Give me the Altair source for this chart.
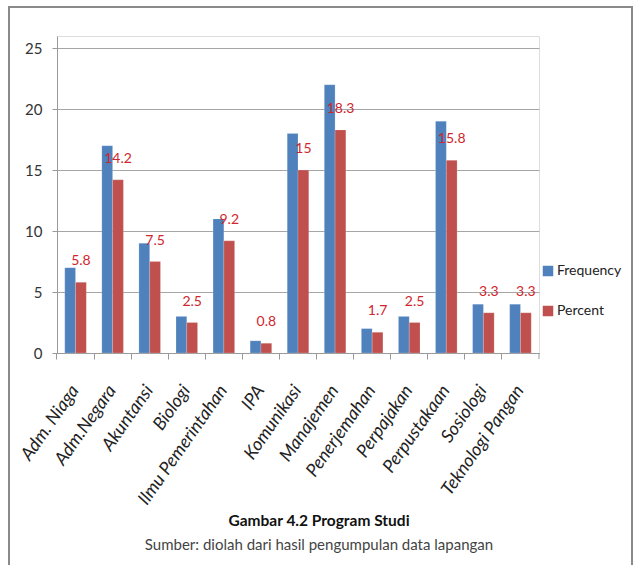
import altair as alt
import pandas as pd

categories = ["Adm. Niaga", "Adm.Negara", "Akuntansi", "Biologi", "Ilmu Pemerintahan", "IPA",
              "Komunikasi", "Manajemen", "Penerjemahan", "Perpajakan", "Perpustakaan",
              "Sosiologi", "Teknologi Pangan"]
frequency = [7, 17, 9, 3, 11, 1, 18, 22, 2, 3, 19, 4, 4]
percent = [5.8, 14.2, 7.5, 2.5, 9.2, 0.8, 15, 18.3, 1.7, 2.5, 15.8, 3.3, 3.3]
series = ["Frequency", "Percent"]
y_ticks = [0, 5, 10, 15, 20, 25]

rows = []
for c, f, p in zip(categories, frequency, percent):
    rows.append({"cat": c, "series": "Frequency", "value": f})
    rows.append({"cat": c, "series": "Percent", "value": p})
df = pd.DataFrame(rows)

FONT = "Lato"

x_enc_labels = alt.X("cat:N", sort=categories, title=None,
                     scale=alt.Scale(paddingInner=0, paddingOuter=0),
                     axis=alt.Axis(orient="bottom", labelAngle=-55, labelAlign="right",
                                   labelBaseline="middle", labelFontSize=18, labelFontStyle="italic",
                                   labelColor="#222", labelPadding=34, ticks=False,
                                   domainColor="#999", labelFont=FONT, labelLimit=300))
x_enc_ticks = alt.X("cat:N", sort=categories, title=None,
                    axis=alt.Axis(orient="bottom", labels=False, ticks=True, tickSize=6,
                                  tickColor="#999", bandPosition=0, domain=False))

xoff = alt.XOffset("series:N", sort=series,
                   scale=alt.Scale(paddingInner=0, paddingOuter=0.72))

y_enc = alt.Y("value:Q", title=None,
              scale=alt.Scale(domain=[0, 25]),
              axis=alt.Axis(values=y_ticks, labelFontSize=15, labelColor="#333", labelFont=FONT,
                            gridColor="#a6a6a6", tickColor="#999", tickSize=5, domainColor="#999",
                            labelPadding=10))

bars = alt.Chart(df).mark_bar(stroke="#ffffff", strokeOpacity=0.35, strokeWidth=0.5).encode(
    x=x_enc_labels,
    xOffset=xoff,
    y=y_enc,
    color=alt.Color("series:N", sort=series,
                    scale=alt.Scale(domain=series, range=["#4F81BD", "#C0504D"]),
                    legend=alt.Legend(title=None, orient="none", legendX=484, legendY=228,
                                      symbolType="square", symbolSize=110, labelFontSize=14,
                                      labelFont=FONT, labelColor="#222", rowPadding=26,
                                      symbolStrokeWidth=0, labelOffset=2)),
)

labels = alt.Chart(df[df["series"] == "Percent"]).mark_text(
    color="#D0262E", fontSize=14, font=FONT, baseline="middle", dy=-21
).encode(
    x=x_enc_ticks,
    xOffset=xoff,
    y=alt.Y("value:Q"),
    text=alt.Text("value:Q", format=".1~f"),
)

end_tick = alt.Chart(pd.DataFrame({"a": [0]})).mark_rule(color="#999").encode(
    x=alt.value(482), y=alt.value(317), y2=alt.value(323))

frame = alt.Chart(pd.DataFrame({"a": [0]})).mark_rect(
    fill=None, stroke="#8a8a8a", strokeWidth=2
).encode(x=alt.value(-48), x2=alt.value(575), y=alt.value(-29), y2=alt.value(531))

chart = alt.layer(bars, labels, end_tick, frame).resolve_axis(x="independent").properties(
    width=482, height=317,
    autosize=alt.AutoSizeParams(type="none"),
    padding={"left": 57, "top": 36, "right": 95, "bottom": 212},
    title=alt.TitleParams(
        "Gambar 4.2 Program Studi",
        subtitle="Sumber: diolah dari hasil pengumpulan data lapangan",
        orient="bottom", anchor="middle", offset=-54, dx=21,
        font=FONT, fontSize=15.5, fontWeight="bold", color="#111",
        subtitleFont=FONT, subtitleFontSize=15, subtitleColor="#444", subtitlePadding=8,
    ),
).configure_view(stroke=None).configure(background="white")

chart.save("out.html", embed_options={"renderer": "svg", "actions": False})
